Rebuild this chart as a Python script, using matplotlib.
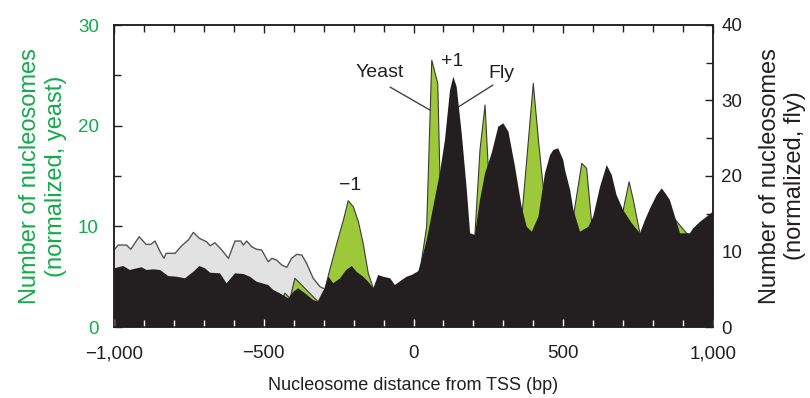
import matplotlib
matplotlib.use("Agg")
import matplotlib.pyplot as plt
from matplotlib import font_manager as fm
from matplotlib.ticker import MultipleLocator, FuncFormatter

# ---------------- data ----------------
# Yeast, upstream region shown in grey (left axis)
yeast_grey_x = [-1000, -986, -958, -944, -916, -893, -877, -863, -846, -833, -826, -796, -774,
                -752, -735, -715, -691, -679, -663, -640, -618, -596, -577, -568, -557, -540,
                -524, -507, -485, -473, -457, -440, -423, -407, -390, -373, -357, -335, -312, -301]
yeast_grey_y = [7.65, 8.14, 8.14, 7.72, 8.97, 8.21, 8.21, 8.54, 7.48, 6.83, 7.32, 7.32, 8.07,
                8.64, 9.40, 8.81, 8.47, 8.07, 8.37, 7.65, 6.82, 8.54, 8.54, 8.14, 8.54, 7.97,
                7.72, 7.65, 6.48, 6.82, 6.65, 6.16, 5.93, 6.82, 7.22, 7.15, 6.33, 4.84, 4.00, 3.84]

# Yeast (left axis, green)
yeast_x = [-445, -429, -412, -396, -379, -357, -335, -318, -307, -295, -284, -256, -234, -218,
           -201, -184, -168, -151, -134, -100, -50, 0, 20, 27, 44, 61, 81, 88, 105, 130, 160,
           190, 205, 222, 239, 255, 270, 300, 330, 359, 400, 417, 433, 450, 480, 510, 534,
           562, 578, 595, 620, 660, 700, 720, 734, 756, 790, 830, 860, 873, 884, 912, 950, 1000]
yeast_y = [2.5, 3.35, 2.85, 4.84, 4.34, 3.67, 3.01, 2.51, 3.18, 3.84, 5.16, 8.31, 10.63, 12.54,
           11.95, 10.46, 8.31, 5.33, 3.84, 3.5, 3.5, 4.0, 5.0, 6.65, 9.96, 26.51, 24.20, 15.26,
           11.0, 8.0, 7.0, 8.5, 9.14, 17.58, 22.05, 12.61, 9.0, 8.0, 8.5, 10.0, 24.2, 18.6,
           13.93, 10.0, 9.0, 9.5, 11.0, 16.26, 15.76, 10.3, 9.0, 9.0, 11.6, 14.43, 12.6, 9.3,
           8.5, 8.5, 9.5, 10.7, 10.3, 9.3, 8.5, 9.0]

# Fly (right axis, black)
fly_x = [-1000, -969, -947, -924, -908, -891, -869, -846, -819, -791, -763, -735, -715, -696,
         -679, -646, -624, -596, -568, -546, -524, -485, -468, -446, -418, -401, -385, -362,
         -335, -318, -301, -284, -268, -245, -225, -206, -190, -168, -151, -134, -118, -101,
         -78, -62, -39, -23, -6, 16, 27, 44, 66, 88, 105, 122, 133, 144, 161, 178, 189, 205,
         222, 239, 261, 283, 300, 317, 339, 361, 378, 395, 417, 439, 456, 467, 483, 500, 506,
         523, 534, 556, 584, 600, 623, 645, 662, 678, 700, 729, 756, 773, 790, 812, 829, 845,
         856, 873, 890, 906, 923, 934, 957, 979, 1000]
fly_y = [7.77, 8.08, 7.55, 7.77, 7.91, 7.55, 7.64, 7.55, 6.75, 6.66, 6.45, 7.32, 8.08, 7.77,
         7.19, 7.11, 5.79, 7.11, 7.02, 6.66, 6.00, 5.56, 4.90, 4.46, 3.80, 4.68, 5.13, 4.46,
         3.58, 3.35, 4.68, 6.66, 5.79, 6.45, 7.55, 8.08, 7.32, 6.66, 6.00, 5.13, 6.89, 6.66,
         6.45, 5.56, 6.23, 6.66, 6.89, 7.40, 8.87, 11.52, 15.93, 20.36, 24.77, 31.39, 33.15,
         31.83, 25.66, 18.15, 12.41, 12.19, 16.82, 20.36, 23.01, 26.53, 26.98, 25.87, 21.23,
         15.93, 13.28, 12.62, 14.61, 20.36, 22.78, 23.44, 23.67, 22.12, 20.79, 18.15, 15.50,
         12.62, 13.28, 14.61, 18.58, 21.46, 20.13, 17.48, 15.50, 13.73, 12.41, 14.17, 15.72,
         17.48, 18.37, 17.48, 16.82, 14.61, 12.41, 12.41, 12.41, 13.07, 13.95, 14.61, 15.27]

x_ticks = [-1000, -500, 0, 500, 1000]
yl_ticks = [0, 10, 20, 30]
yr_ticks = [0, 10, 20, 30, 40]

# ---------------- style ----------------
def pick_font():
    for name in ["Liberation Sans Narrow", "Liberation Sans", "DejaVu Sans"]:
        try:
            fm.findfont(name, fallback_to_default=False)
            return name
        except Exception:
            pass
    return "DejaVu Sans"

FONT = pick_font()
plt.rcParams['font.family'] = [FONT, 'DejaVu Sans']
plt.rcParams['axes.unicode_minus'] = True

GREEN_TXT = '#13ab4a'
GREEN_FILL = '#9cc83a'
GREY_FILL = '#e2e2e3'
BLACK = '#231f20'

fig = plt.figure(figsize=(8.10, 3.98), dpi=100)
ax = fig.add_axes([114/810, 1-327/398, (713-114)/810, (327-25)/398])
ax2 = ax.twinx()

ax.fill_between(yeast_grey_x, yeast_grey_y, 0, facecolor=GREY_FILL, edgecolor='none', zorder=1)
ax.plot(yeast_grey_x, yeast_grey_y, color='#555555', lw=1.0, zorder=2)
ax.fill_between(yeast_x, yeast_y, 0, facecolor=GREEN_FILL, edgecolor='none', zorder=3)
ax.plot(yeast_x, yeast_y, color='#3a3a3a', lw=0.8, zorder=4)
ax2.fill_between(fly_x, fly_y, 0, facecolor=BLACK, edgecolor='none', zorder=1)

ax.set_xlim(-1000, 1000)
ax.set_ylim(0, 30)
ax2.set_ylim(0, 40)

def fmt_x(v, pos):
    s = f"{abs(int(v)):,}"
    return ("\u2212" + s) if v < 0 else s

ax.set_xticks(x_ticks)
ax.xaxis.set_minor_locator(MultipleLocator(100))
ax.xaxis.set_major_formatter(FuncFormatter(fmt_x))
ax.set_yticks(yl_ticks)
ax.yaxis.set_minor_locator(MultipleLocator(5))
ax2.set_yticks(yr_ticks)
ax2.yaxis.set_minor_locator(MultipleLocator(5))

FS = 13.5
ax.tick_params(axis='x', which='both', direction='in', top=True, bottom=False,
               labelbottom=True, labelsize=FS, colors=BLACK, pad=13)
ax.tick_params(axis='x', which='major', length=6, width=1)
ax.tick_params(axis='x', which='minor', length=5, width=1)
ax.tick_params(axis='y', which='both', direction='in', left=True, right=False,
               labelsize=FS, labelcolor=GREEN_TXT, color=BLACK, pad=11)
ax.tick_params(axis='y', which='major', length=6, width=1)
ax.tick_params(axis='y', which='minor', length=5, width=1)

ax2.xaxis.set_visible(True)
ax2.tick_params(axis='x', which='both', direction='in', bottom=True, top=False,
                labelbottom=False, labeltop=False, color='white', width=1)
ax2.tick_params(axis='x', which='major', length=6)
ax2.tick_params(axis='x', which='minor', length=5)
ax2.tick_params(axis='y', which='both', direction='in', right=True, left=False,
                labelsize=FS, labelcolor=BLACK, color=BLACK, pad=6)
ax2.tick_params(axis='y', which='major', length=6, width=1)
ax2.tick_params(axis='y', which='minor', length=5, width=1)

for a in (ax, ax2):
    for s in a.spines.values():
        s.set_linewidth(1.1)
        s.set_color(BLACK)

ax.set_xlabel("Nucleosome distance from TSS (bp)", fontsize=13, color=BLACK, labelpad=11)
ax.set_ylabel("Number of nucleosomes\n(normalized, yeast)", fontsize=17,
              color=GREEN_TXT, labelpad=8, linespacing=1.2)
ax2.set_ylabel("Number of nucleosomes\n(normalized, fly)", fontsize=17,
               color=BLACK, labelpad=12, linespacing=1.15, rotation=90)

# annotations
ax.text(-212, 14.1, "\u22121", fontsize=14, ha='center', va='center', color=BLACK)
ax.text(130, 26.4, "+1", fontsize=14, ha='center', va='center', color=BLACK)
ax.text(-112, 25.3, "Yeast", fontsize=14, ha='center', va='center', color=BLACK)
ax.text(292, 25.2, "Fly", fontsize=14, ha='center', va='center', color=BLACK)
ax.annotate("", xy=(55, 21.55), xytext=(-78, 23.83),
            arrowprops=dict(arrowstyle='-', color='#444444', lw=1.0, shrinkA=0, shrinkB=0))
ax.annotate("", xy=(149, 21.85), xytext=(265, 24.03),
            arrowprops=dict(arrowstyle='-', color='#444444', lw=1.0, shrinkA=0, shrinkB=0))

fig.savefig("out.png", dpi=100)
